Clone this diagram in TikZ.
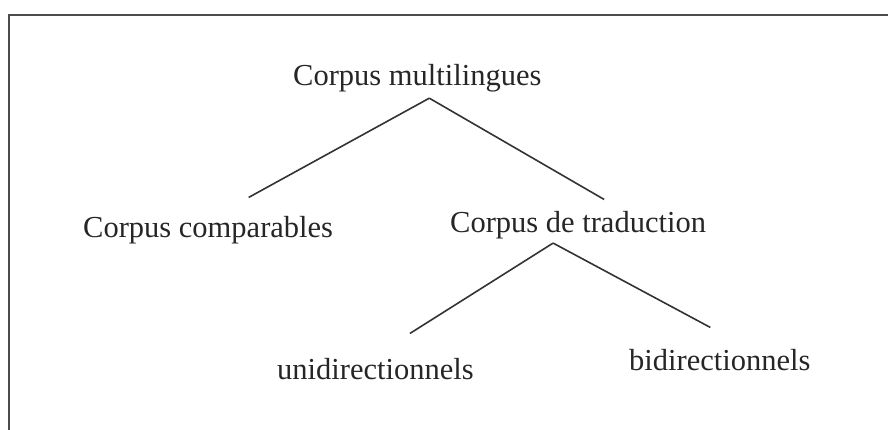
\documentclass[tikz,border=0pt]{standalone}
\usepackage{fontspec}
\setmainfont{Liberation Serif}
\usetikzlibrary{calc}

\begin{document}
\begin{tikzpicture}
[x=1pt,y=-1pt,%
  lineDecorate/.style={-,line width=1.6pt,draw=black!80},%
  frameDecorate/.style={line width=1.8pt,draw=black!70},%
  nodeDecorate/.style={anchor=base west,inner sep=0pt,text=black!85}]
\fontsize{30.5}{36}\selectfont
\useasboundingbox (0,0) rectangle (888,430);
%% frame
\draw[frameDecorate] (9,430) -- (9,15) -- (888,15);
%% nodes or labels
\foreach \nodename/\x/\y/\label in {
  root/293/86/Corpus multilingues, comp/83/237/Corpus comparables,
  trad/450/233/Corpus de traduction, uni/277/379/unidirectionnels,
  bi/629/370/bidirectionnels}
{
  \node (\nodename) at (\x,\y) [nodeDecorate] {\label};
}
%% edges or lines
\foreach \startnode/\sx/\sy/\endnode/\ex/\ey in {
  root/12/5.4/comp/40.5/-18.2, root/12/5.4/trad/26/-12.2,
  trad/-25/3.4/uni/34.5/-24.2, trad/-25/3.4/bi/-9.5/-21.2}
{
  \draw[lineDecorate] ($(\startnode.south)+(\sx,\sy)$) -- ($(\endnode.north)+(\ex,\ey)$);
}
\end{tikzpicture}
\end{document}
